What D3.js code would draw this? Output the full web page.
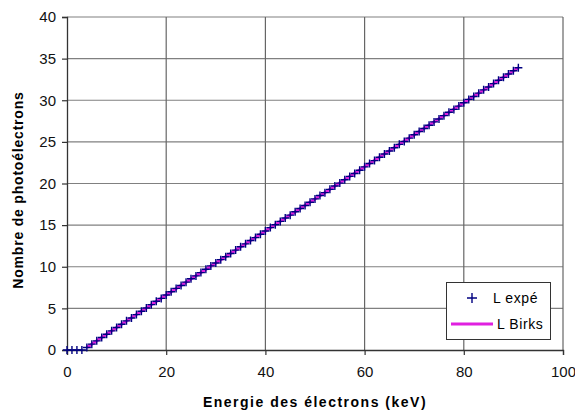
<!DOCTYPE html>
<html><head><meta charset="utf-8">
<script src="https://cdn.jsdelivr.net/npm/d3@7"></script>
<style>body{margin:0;background:#fff}svg{display:block}text{font-family:"Liberation Sans",Arial,sans-serif}</style>
</head><body>
<svg id="c" width="575" height="416"></svg>
<script>
const energies = [0,1,2,3,4,5,6,7,8,9,10,11,12,13,14,15,16,17,18,19,20,21,22,23,24,25,26,27,28,29,30,31,32,33,34,35,36,37,38,39,40,41,42,43,44,45,46,47,48,49,50,51,52,53,54,55,56,57,58,59,60,61,62,63,64,65,66,67,68,69,70,71,72,73,74,75,76,77,78,79,80,81,82,83,84,85,86,87,88,89,90,91];
const lExpe = [0,0,0,0,0.3,0.7,1.1,1.5,1.9,2.3,2.7,3.1,3.5,3.85,4.25,4.65,5.05,5.45,5.85,6.2,6.6,7.0,7.4,7.75,8.15,8.55,8.9,9.3,9.7,10.1,10.45,10.85,11.2,11.6,12.0,12.4,12.75,13.15,13.5,13.9,14.3,14.7,15.05,15.45,15.85,16.2,16.6,17.0,17.35,17.75,18.15,18.55,18.9,19.3,19.7,20.05,20.45,20.85,21.2,21.6,22.0,22.4,22.75,23.15,23.55,23.9,24.3,24.7,25.05,25.45,25.85,26.25,26.6,27.0,27.4,27.75,28.15,28.55,28.9,29.3,29.7,30.1,30.45,30.85,31.25,31.6,32.0,32.4,32.75,33.15,33.55,33.9];
const birksE = [4,10,20,30,40,50,60,70,80,91];
const lBirks = [0.3,2.7,6.6,10.45,14.3,18.15,22.0,25.85,29.7,33.9];
const xTicks = [0,20,40,60,80,100];
const yTicks = [0,5,10,15,20,25,30,35,40];
const xTitle = "Energie des électrons (keV)";
const yTitle = "Nombre de photoélectrons";
const legendLabels = ["L expé","L Birks"];

const svg = d3.select("#c");
const L=67,R=563,T=17,B=350;
const x = d3.scaleLinear().domain([0,100]).range([L,R]);
const y = d3.scaleLinear().domain([0,40]).range([B,T]);

// grid
svg.append("g").selectAll("line").data(yTicks.slice(1)).join("line")
  .attr("x1",L).attr("x2",R).attr("y1",d=>y(d)).attr("y2",d=>y(d))
  .attr("stroke","#808080").attr("stroke-width",1.2);
svg.append("g").selectAll("line").data(xTicks.slice(1)).join("line")
  .attr("y1",T).attr("y2",B).attr("x1",d=>x(d)).attr("x2",d=>x(d))
  .attr("stroke","#666").attr("stroke-width",1.2);

// axes
const ya = svg.append("g").attr("transform",`translate(${L},0)`)
  .call(d3.axisLeft(y).tickValues(yTicks).tickSize(5).tickPadding(6));
const xa = svg.append("g").attr("transform",`translate(0,${B})`)
  .call(d3.axisBottom(x).tickValues(xTicks).tickSize(5).tickPadding(11));
[ya,xa].forEach(a=>{
  a.select(".domain").attr("stroke","#333").attr("stroke-width",1.3);
  a.selectAll(".tick line").attr("stroke","#333").attr("stroke-width",1.2);
  a.selectAll("text").attr("font-size",15).attr("fill","#111").attr("font-family","Liberation Sans, Arial, sans-serif");
});

// Birks line
svg.append("path").datum(birksE.map((e,i)=>[e,lBirks[i]]))
  .attr("d",d3.line().x(d=>x(d[0])).y(d=>y(d[1])))
  .attr("fill","none").attr("stroke","#e020e0").attr("stroke-width",3);

// markers
const s=4;
svg.append("g").selectAll("path").data(energies.map((e,i)=>[e,lExpe[i]])).join("path")
  .attr("d",d=>{const px=x(d[0]),py=y(d[1]);return `M${px-s},${py}H${px+s}M${px},${py-s}V${py+s}`;})
  .attr("stroke","#000080").attr("stroke-width",1.4).attr("fill","none");

// titles
svg.append("text").attr("x",315).attr("y",407).attr("text-anchor","middle")
  .attr("font-size",14).attr("font-weight","bold").attr("letter-spacing",1.5).text(xTitle);
svg.append("text").attr("transform",`translate(23,190) rotate(-90)`).attr("text-anchor","middle")
  .attr("font-size",14).attr("font-weight","bold").attr("letter-spacing",0.8).text(yTitle);

// legend
const lg = svg.append("g");
lg.append("rect").attr("x",446.5).attr("y",282.5).attr("width",104).attr("height",57)
  .attr("fill","#fff").attr("stroke","#333").attr("stroke-width",1);
lg.append("path").attr("d","M467,298H477M472,293V303").attr("stroke","#000080").attr("stroke-width",1.4);
lg.append("line").attr("x1",451).attr("x2",493).attr("y1",324).attr("y2",324).attr("stroke","#e020e0").attr("stroke-width",3);
lg.append("text").attr("x",493).attr("y",303).attr("font-size",14).attr("letter-spacing",0.6).text(legendLabels[0]);
lg.append("text").attr("x",497).attr("y",329).attr("font-size",14).attr("letter-spacing",0.6).text(legendLabels[1]);
</script>
</body></html>
